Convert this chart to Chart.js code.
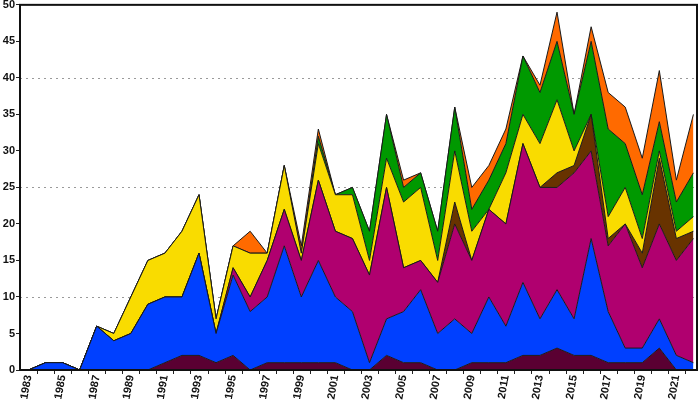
<!DOCTYPE html>
<html>
<head>
<meta charset="utf-8">
<script src="https://cdn.jsdelivr.net/npm/chart.js@4/dist/chart.umd.min.js"></script>
<style>
html,body{margin:0;padding:0;background:#fff;}
#c{display:block;}
</style>
</head>
<body>
<canvas id="c" width="700" height="401"></canvas>
<script>
const years = [1983,1984,1985,1986,1987,1988,1989,1990,1991,1992,1993,1994,1995,1996,1997,1998,1999,2000,2001,2002,2003,2004,2005,2006,2007,2008,2009,2010,2011,2012,2013,2014,2015,2016,2017,2018,2019,2020,2021,2022];
const xTickLabels = [1983,1985,1987,1989,1991,1993,1995,1997,1999,2001,2003,2005,2007,2009,2011,2013,2015,2017,2019,2021];
const yTicks = [0,5,10,15,20,25,30,35,40,45,50];
const gridAt = [10,25,40];

const maroon  = [0,0,0,0,0,0,0,0,1,2,2,1,2,0,1,1,1,1,1,0,0,2,1,1,0,0,1,1,1,2,2,3,2,2,1,1,1,3,0,0];
const blue    = [0,1,1,0,6,4,5,9,9,8,14,4,11,8,9,16,9,14,9,8,1,5,7,10,5,7,4,9,5,10,5,8,5,16,7,2,2,4,2,1];
const magenta = [0,0,0,0,0,0,0,0,0,0,0,0,1,2,5,5,5,11,9,10,12,18,6,4,7,13,10,12,14,19,18,14,20,12,9,17,11,13,13,17];
const brown   = [0,0,0,0,0,0,0,0,0,0,0,0,0,0,0,0,0,0,0,0,0,0,0,0,0,3,0,0,0,0,0,2,1,5,1,0,2,9,3,1];
const yellow  = [0,0,0,0,0,1,5,6,6,9,8,2,3,6,1,6,1,5,5,6,2,4,9,10,3,7,4,0,7,4,6,10,2,0,3,5,2,1,1,2];
const green   = [0,0,0,0,0,0,0,0,0,0,0,0,0,0,0,0,0,1,0,1,4,6,2,2,4,6,3,4,4,8,7,8,5,10,12,6,6,4,4,6];
const orange  = [0,0,0,0,0,0,0,0,0,0,0,0,0,3,0,0,1,1,0,0,0,0,1,0,0,0,3,2,2,0,1,4,0,2,5,5,5,7,3,8];

const seriesList = [
  {name:'maroon', data:maroon, color:'#5a0032'},
  {name:'blue', data:blue, color:'#0040ff'},
  {name:'magenta', data:magenta, color:'#b0006f'},
  {name:'brown', data:brown, color:'#683300'},
  {name:'yellow', data:yellow, color:'#f9dc00'},
  {name:'green', data:green, color:'#009900'},
  {name:'orange', data:orange, color:'#ff6a00'}
];

const datasets = seriesList.map((s, i) => ({
  label: s.name,
  data: years.map((y, j) => ({x: y, y: s.data[j]})),
  backgroundColor: s.color,
  borderColor: '#1a1a1a',
  borderWidth: 1,
  pointRadius: 0,
  tension: 0,
  fill: i === 0 ? 'origin' : '-1'
}));

// Axis decorations: dotted guide lines, year-boundary tick marks, frame
const decoPlugin = {
  id: 'deco',
  beforeDatasetsDraw(chart) {
    const a = chart.chartArea, ctx = chart.ctx, ys = chart.scales.y;
    ctx.save();
    ctx.strokeStyle = '#9a9a9a';
    ctx.lineWidth = 1;
    ctx.setLineDash([2, 4]);
    gridAt.forEach(v => {
      const py = Math.round(ys.getPixelForValue(v)) + 0.5;
      ctx.beginPath();
      ctx.moveTo(a.left, py);
      ctx.lineTo(a.right, py);
      ctx.stroke();
    });
    ctx.restore();
  },
  afterDatasetsDraw(chart) {
    const a = chart.chartArea, ctx = chart.ctx, xs = chart.scales.x;
    ctx.save();
    ctx.strokeStyle = '#222';
    ctx.lineWidth = 1;
    years.forEach(y => {
      const px = Math.round(xs.getPixelForValue(y - 0.5)) + 0.5;
      if (px <= a.left + 1 || px >= a.right) return;
      ctx.beginPath();
      ctx.moveTo(px, a.bottom);
      ctx.lineTo(px, a.bottom + 4);
      ctx.stroke();
    });
    ctx.strokeStyle = '#111';
    ctx.lineWidth = 2;
    ctx.strokeRect(a.left, a.top, a.right - a.left, a.bottom - a.top);
    ctx.restore();
  }
};

const labelFont = {family: '"Liberation Sans", Arial, sans-serif', size: 11, weight: 'bold'};

new Chart(document.getElementById('c'), {
  type: 'line',
  data: {datasets},
  plugins: [decoPlugin],
  options: {
    responsive: false,
    animation: false,
    devicePixelRatio: 1,
    layout: {padding: {top: 0, right: 3, left: 0, bottom: 0}},
    plugins: {legend: {display: false}, tooltip: {enabled: false}},
    elements: {line: {borderJoinStyle: 'miter'}},
    scales: {
      x: {
        type: 'linear',
        min: 1982.5,
        max: 2022.21,
        afterBuildTicks(scale) {
          scale.ticks = xTickLabels.map(v => ({value: v}));
        },
        afterFit(scale) { scale.height = 31; },
        grid: {display: true, drawOnChartArea: false, drawTicks: true, tickLength: 4, tickColor: 'rgba(0,0,0,0)'},
        border: {display: true, color: '#111', width: 2},
        ticks: {
          autoSkip: false,
          minRotation: 80,
          maxRotation: 80,
          padding: 0,
          color: '#111',
          font: labelFont,
          callback: v => String(v)
        }
      },
      y: {
        stacked: true,
        min: 0,
        max: 50,
        afterBuildTicks(scale) { scale.ticks = yTicks.map(v => ({value: v})); },
        afterFit(scale) { scale.width = 20; },
        grid: {display: true, drawOnChartArea: false, drawTicks: true, tickLength: 4, tickColor: '#222'},
        border: {display: true, color: '#111', width: 2},
        ticks: {
          padding: 1,
          color: '#111',
          font: {family: '"Liberation Sans", Arial, sans-serif', size: 11, weight: 'bold', lineHeight: 0.7}
        }
      }
    }
  }
});
</script>
</body>
</html>
